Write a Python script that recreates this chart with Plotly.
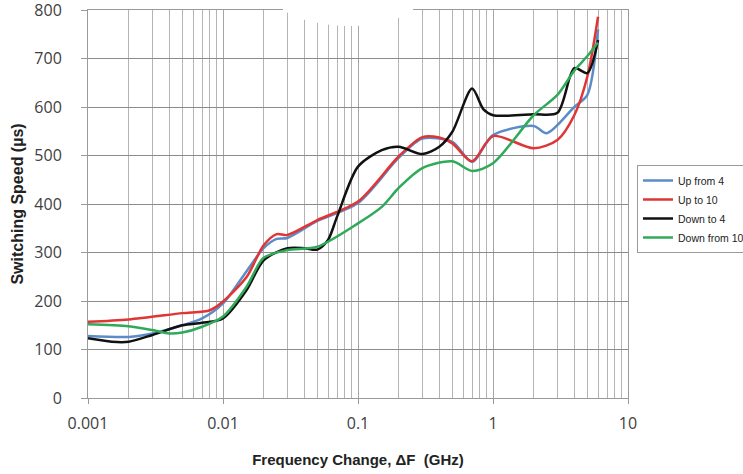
import plotly.graph_objects as go

# ---- data ----
up4_x = [0.001, 0.002, 0.003, 0.005, 0.007, 0.01, 0.015, 0.02, 0.025, 0.03, 0.05, 0.1, 0.2, 0.3, 0.5, 0.7, 1, 2, 2.5, 4, 5, 6]
up4_y = [128, 126, 133, 150, 164, 195, 262, 309, 328, 330, 365, 402, 495, 535, 528, 487, 542, 561, 546, 600, 625, 760]

up10_x = [0.001, 0.002, 0.005, 0.008, 0.01, 0.015, 0.02, 0.025, 0.03, 0.05, 0.1, 0.2, 0.3, 0.4, 0.5, 0.7, 1, 2, 3, 4, 5, 6]
up10_y = [157, 162, 175, 181, 199, 250, 315, 338, 336, 367, 405, 498, 538, 537, 525, 488, 540, 515, 532, 583, 663, 786]

down4_x = [0.001, 0.0015, 0.002, 0.003, 0.005, 0.007, 0.01, 0.015, 0.02, 0.03, 0.04, 0.05, 0.06, 0.07, 0.1, 0.15, 0.2, 0.3, 0.4, 0.5, 0.7, 0.85, 1, 2, 3, 4, 5, 6]
down4_y = [123, 116, 116, 130, 150, 155, 164, 223, 284, 309, 309, 306, 326, 374, 477, 511, 518, 503, 518, 549, 638, 595, 583, 585, 588, 680, 670, 738]

down10_x = [0.001, 0.002, 0.003, 0.004, 0.005, 0.007, 0.01, 0.015, 0.02, 0.03, 0.05, 0.1, 0.15, 0.2, 0.3, 0.5, 0.7, 1, 2, 3, 4, 5, 6]
down10_y = [152, 148, 140, 133, 135, 147, 168, 230, 289, 305, 312, 360, 394, 433, 474, 488, 468, 484, 583, 625, 675, 705, 733]

series_names = ["Up from 4", "Up to 10", "Down to 4", "Down from 10"]
series_colors = ["#5b8cc8", "#e03535", "#111111", "#2faa58"]

y_ticks = [0, 100, 200, 300, 400, 500, 600, 700, 800]
x_ticks = [0.001, 0.01, 0.1, 1, 10]
x_tick_labels = ["0.001", "0.01", "0.1", "1", "10"]

fig = go.Figure()
for name, color, xs, ys in zip(series_names, series_colors,
                                [up4_x, up10_x, down4_x, down10_x],
                                [up4_y, up10_y, down4_y, down10_y]):
    fig.add_trace(go.Scatter(x=xs, y=ys, name=name, mode="lines",
                             line=dict(color=color, width=2.5, shape="spline", smoothing=0.8)))

tick_font = dict(family="Open Sans, Liberation Sans, Arial", size=16, color="#404040")
title_font = dict(family="Liberation Sans, Arial", size=16, color="#222222")

fig.update_layout(
    width=743, height=474,
    margin=dict(l=88, r=115, t=10, b=76, autoexpand=False),
    paper_bgcolor="white", plot_bgcolor="white",
    showlegend=True,
    legend=dict(xref="container", yref="container", x=637/743, y=1-165/474,
                xanchor="left", yanchor="top",
                bordercolor="#9a9a9a", borderwidth=1, bgcolor="white",
                font=dict(family="Liberation Sans, Arial", size=10.5, color="#222"),
                itemwidth=30, tracegroupgap=0),
    xaxis=dict(type="log", range=[-3, 1], tickvals=x_ticks, ticktext=x_tick_labels,
               automargin=False,
               showgrid=True, gridcolor="#a6a6a6", gridwidth=1,
               minor=dict(showgrid=True, gridcolor="#b4b4b4", gridwidth=1, dtick="D1", ticks=""),
               showline=True, linecolor="#9a9a9a", linewidth=1, mirror=True,
               ticks="outside", ticklen=5, tickcolor="#9a9a9a",
               tickfont=tick_font, ticklabelstandoff=6,
               title=dict(text="<b>Frequency Change, \u0394F  (GHz)</b>",
                          font=dict(family="Liberation Sans, Arial", size=15, color="#222222"),
                          standoff=21),
               zeroline=False),
    yaxis=dict(range=[0, 800], tickvals=y_ticks, automargin=False,
               ticklabeloverflow="allow",
               showgrid=True, gridcolor="#8c8c8c", gridwidth=1,
               showline=True, linecolor="#9a9a9a", linewidth=1, mirror=True,
               ticks="outside", ticklen=6, tickcolor="#9a9a9a",
               tickfont=tick_font, ticklabelstandoff=16,
               title=dict(text="<b>Switching Speed (\u00b5s)</b>", font=title_font, standoff=6),
               zeroline=False),
    shapes=[dict(type="path", xref="paper", yref="paper",
                 path="M 0.361,1.03 L 0.361,1.0 C 0.42,0.945 0.55,0.945 0.602,1.0 L 0.602,1.03 Z",
                 fillcolor="white", line=dict(width=0), layer="above")],
)

fig.write_html("out.html", config={"displayModeBar": False},
               post_script="document.body.style.margin='0';")
